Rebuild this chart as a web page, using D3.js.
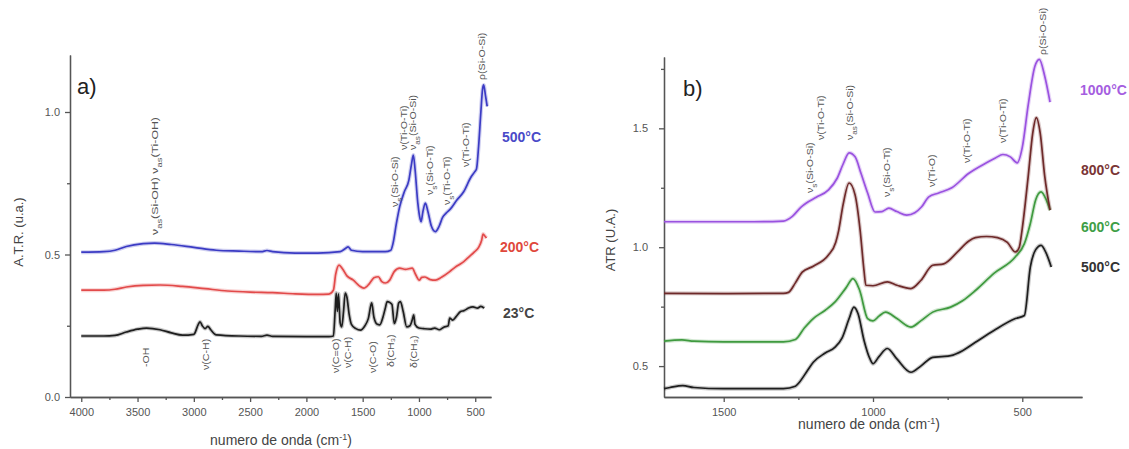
<!DOCTYPE html>
<html>
<head>
<meta charset="utf-8">
<script src="https://cdnjs.cloudflare.com/ajax/libs/d3/7.8.5/d3.min.js"></script>
<style>
  body { margin: 0; background: #fff; }
  svg { font-family: "Liberation Sans", Arial, sans-serif; }
  .axis path, .axis line { stroke: #555; stroke-width: 1.3; }
  .axis text { fill: #555; font-size: 11px; }
</style>
</head>
<body>
<div id="chart-area"></div>
<script>
// spectra, [wavenumber, ATR]
var specA23 = [[4000,.214],[3800,.214],[3700,.216],[3600,.228],[3500,.238],[3420,.242],[3300,.236],[3200,.225],
  [3100,.217],[3000,.220],[2960,.255],[2945,.264],[2925,.250],[2900,.240],[2875,.248],[2850,.236],[2800,.218],
  [2600,.214],[2400,.213],[2350,.217],[2300,.213],[2000,.212],[1800,.212],[1760,.214],[1745,.300],[1735,.365],
  [1725,.300],[1715,.362],[1700,.260],[1686,.246],[1670,.300],[1655,.365],[1640,.350],[1620,.290],[1600,.255],
  [1560,.240],[1520,.235],[1480,.250],[1450,.275],[1420,.330],[1400,.280],[1370,.255],[1348,.253],[1320,.280],
  [1300,.310],[1282,.335],[1260,.332],[1240,.325],[1219,.258],[1200,.280],[1180,.330],[1165,.335],[1140,.300],
  [1109,.246],[1080,.250],[1060,.270],[1047,.288],[1035,.255],[1000,.242],[960,.240],[900,.238],[860,.242],
  [820,.236],[780,.245],[740,.250],[727,.277],[700,.270],[670,.282],[630,.300],[600,.303],[560,.312],[520,.316],
  [480,.312],[450,.318],[420,.312]];

var specA200 = [[4000,.375],[3800,.375],[3700,.378],[3600,.386],[3450,.392],[3300,.393],[3100,.388],[2900,.380],
  [2700,.372],[2500,.368],[2300,.366],[2100,.362],[1900,.360],[1800,.361],[1760,.375],[1740,.430],[1710,.463],
  [1680,.450],[1640,.425],[1583,.410],[1530,.390],[1490,.382],[1440,.398],[1400,.418],[1361,.422],[1330,.405],
  [1297,.400],[1260,.410],[1220,.440],[1171,.452],[1120,.448],[1060,.452],[1030,.430],[997,.410],[975,.420],
  [950,.421],[900,.412],[854,.410],[800,.420],[727,.440],[680,.455],[640,.465],[602,.475],[560,.490],[505,.510],
  [470,.525],[443,.550],[430,.572],[415,.565],[400,.558]];

var specA500 = [[4000,.508],[3800,.510],[3700,.515],[3600,.528],[3450,.538],[3350,.540],[3200,.535],[3000,.525],
  [2800,.515],[2600,.512],[2400,.510],[2350,.514],[2300,.510],[2100,.505],[1900,.505],[1700,.510],[1650,.522],
  [1630,.527],[1600,.515],[1500,.510],[1300,.510],[1250,.515],[1230,.540],[1200,.610],[1171,.668],[1130,.720],
  [1090,.760],[1065,.820],[1050,.849],[1035,.800],[1010,.680],[990,.625],[981,.615],[965,.650],[943,.680],
  [920,.650],[890,.600],[854,.580],[820,.600],[790,.630],[759,.645],[720,.660],[665,.690],[603,.720],[540,.770],
  [505,.790],[489,.800],[470,.880],[450,1.000],[435,1.080],[425,1.095],[410,1.060],[394,1.020]];

var specB500 = [[1700,.405],[1680,.410],[1637,.418],[1600,.410],[1500,.405],[1300,.405],[1260,.415],[1248,.430],
  [1220,.480],[1200,.516],[1160,.555],[1127,.580],[1103,.620],[1080,.700],[1064,.748],[1050,.720],[1030,.608],
  [1010,.530],[1000,.510],[980,.540],[952,.574],[920,.530],[873,.474],[840,.500],[800,.537],[770,.540],
  [740,.544],[700,.565],[657,.600],[595,.650],[523,.700],[493,.713],[473,.917],[455,.990],[437,1.008],
  [420,.975],[403,.917]];

var specB600 = [[1700,.605],[1640,.610],[1600,.605],[1500,.602],[1300,.602],[1260,.612],[1230,.660],[1200,.700],
  [1160,.735],[1127,.770],[1090,.830],[1067,.868],[1045,.820],[1018,.700],[1000,.690],[980,.710],[958,.727],
  [920,.700],[873,.664],[840,.690],[800,.727],[740,.748],[700,.775],[657,.818],[595,.890],[523,.960],
  [493,1.015],[473,1.100],[455,1.200],[437,1.233],[420,1.200],[407,1.156]];

var specB800 = [[1700,.806],[1500,.805],[1300,.806],[1283,.810],[1260,.850],[1237,.895],[1200,.920],[1150,.966],
  [1125,1.02],[1115,1.07],[1100,1.18],[1080,1.27],[1060,1.22],[1043,1.07],[1030,.900],[1024,.840],[1000,.838],
  [952,.854],[920,.840],[873,.826],[840,.860],[800,.924],[763,.930],[717,.980],[680,1.025],[657,1.040],
  [620,1.045],[583,1.040],[550,1.020],[523,.980],[510,1.000],[501,1.070],[480,1.300],[465,1.480],[453,1.545],
  [440,1.480],[425,1.300],[407,1.156]];

var specB1000 = [[1700,1.107],[1600,1.107],[1400,1.107],[1300,1.110],[1270,1.130],[1240,1.170],[1223,1.186],
  [1190,1.210],[1150,1.240],[1120,1.290],[1100,1.350],[1080,1.397],[1060,1.380],[1040,1.310],[1018,1.228],
  [993,1.148],[970,1.150],[947,1.164],[920,1.150],[887,1.135],[860,1.145],[837,1.170],[813,1.212],[780,1.228],
  [736,1.250],[680,1.310],[620,1.355],[590,1.375],[565,1.390],[540,1.380],[517,1.355],[500,1.420],[480,1.600],
  [458,1.760],[443,1.790],[425,1.720],[407,1.610]];

// tick values
var xTicksA = [4000, 3500, 3000, 2500, 2000, 1500, 1000, 500];
var xMinorA = [3750, 3250, 2750, 2250, 1750, 1250, 750];
var yTicksA = [0, 0.5, 1.0];
var yMinorA = [0.25, 0.75];
var xTicksB = [1500, 1000, 500];
var xMinorB = [1250, 750];
var yTicksB = [0.5, 1.0, 1.5];
var yMinorB = [0.75, 1.25, 1.75];

// band assignments: [label, wavenumber]
var bandsTopA = [["ν_as(Si-OH) ν_as(Ti-OH)", 3345], ["ν_s(Si-O-Si)", 1213], ["ν(Ti-O-Ti)", 1135],
  ["ν_as(Si-O-Si)", 1055], ["ν_s(Si-O-Ti)", 902], ["ν_s(Ti-O-Ti)", 751], ["ν(Ti-O-Ti)", 585], ["ρ(Si-O-Si)", 440]];
var bandsLowA = [["-OH", 3425], ["ν(C-H)", 2892], ["ν(C=O)", 1737], ["ν(C-H)", 1631], ["ν(C-O)", 1409],
  ["δ(CH₃)", 1249], ["δ(CH₃)", 1046]];
var bandsB = [["ν_s(Si-O-Si)", 1211], ["ν(Ti-O-Ti)", 1174], ["ν_as(Si-O-Si)", 1077], ["ν_s(Si-O-Ti)", 953],
  ["ν(Ti-O)", 802], ["ν(Ti-O-Ti)", 685], ["ν(Ti-O-Ti)", 565], ["ρ(Si-O-Si)", 431]];

var svg = d3.select("#chart-area").append("svg")
  .attr("width", 1129)
  .attr("height", 449);

svg.append("rect").attr("width", 1129).attr("height", 449).attr("fill", "#fff");

// scales
var xA = d3.scaleLinear().domain([4100, 360]).range([70, 491]);
var yA = d3.scaleLinear().domain([0, 1.2]).range([397, 55]);
var xB = d3.scaleLinear().domain([1700, 300]).range([664, 1082]);
var yB = d3.scaleLinear().domain([0.37, 1.8]).range([397, 57]);

function drawAxes(x, y, xt, xm, yt, ym, fmtY, ypad) {
  svg.append("g").attr("class", "axis")
    .attr("transform", "translate(0," + y.range()[0] + ")")
    .call(d3.axisBottom(x).tickValues(xm).tickSize(3).tickSizeOuter(0).tickFormat(""));
  svg.append("g").attr("class", "axis")
    .attr("transform", "translate(0," + y.range()[0] + ")")
    .call(d3.axisBottom(x).tickValues(xt).tickSize(5).tickSizeOuter(0).tickPadding(6).tickFormat(d3.format("d")));
  svg.append("g").attr("class", "axis")
    .attr("transform", "translate(" + x.range()[0] + ",0)")
    .call(d3.axisLeft(y).tickValues(ym).tickSize(3).tickSizeOuter(0).tickFormat(""));
  svg.append("g").attr("class", "axis")
    .attr("transform", "translate(" + x.range()[0] + ",0)")
    .call(d3.axisLeft(y).tickValues(yt).tickSize(5).tickSizeOuter(0).tickPadding(ypad).tickFormat(fmtY));
}

drawAxes(xA, yA, xTicksA, xMinorA, yTicksA, yMinorA, d3.format(".1f"), 5);
drawAxes(xB, yB, xTicksB, xMinorB, yTicksB, yMinorB, d3.format(".1f"), 11);

function drawSpec(data, x, y, color) {
  var line = d3.line()
    .x(function(d) { return x(d[0]); })
    .y(function(d) { return y(d[1]); })
    .curve(d3.curveMonotoneX);
  svg.append("path").datum(data)
    .attr("d", line).attr("fill", "none")
    .attr("stroke", color).attr("stroke-opacity", 0.25).attr("stroke-width", 4);
  svg.append("path").datum(data)
    .attr("d", line).attr("fill", "none")
    .attr("stroke", color).attr("stroke-width", 1.7)
    .attr("stroke-linejoin", "round");
}

drawSpec(specA23, xA, yA, "#1e1e1e");
drawSpec(specA200, xA, yA, "#e24a4a");
drawSpec(specA500, xA, yA, "#3b3bc4");
drawSpec(specB500, xB, yB, "#1e1e1e");
drawSpec(specB600, xB, yB, "#3f9a3f");
drawSpec(specB800, xB, yB, "#6e2a2a");
drawSpec(specB1000, xB, yB, "#9a52e0");

// temperature labels
function tempLabel(txt, px, py, color) {
  svg.append("text")
    .attr("x", px).attr("y", py)
    .attr("font-size", "14px").attr("font-weight", "bold")
    .attr("fill", color)
    .text(txt);
}
tempLabel("500°C", 502, 142, "#4a4ac8");
tempLabel("200°C", 500, 252, "#e0483c");
tempLabel("23°C", 503, 318, "#444");
tempLabel("1000°C", 1080, 95, "#a55ee0");
tempLabel("800°C", 1081, 175, "#7a3535");
tempLabel("600°C", 1081, 232, "#3e9e46");
tempLabel("500°C", 1081, 272, "#333");

// rotated band labels, "_xx" marks a subscript
function band(txt, px, py, stretch) {
  var t = svg.append("text")
    .attr("transform", "translate(" + px + "," + py + ") scale(1," + (stretch || 1.25) + ") rotate(-90)")
    .attr("dy", "0.35em")
    .attr("font-size", "8.5px")
    .attr("fill", "#555");
  txt.split(/_([a-z]+)/).forEach(function(s, i) {
    var ts = t.append("tspan").text(s);
    if (i % 2 == 1) ts.attr("font-size", "6.5px").attr("baseline-shift", "sub");
  });
}

var topYA = [235, 207, 150, 150, 195, 205, 167, 80];
bandsTopA.forEach(function(b, i) { band(b[0], xA(b[1]), topYA[i], i == 0 ? 1.45 : 1.25); });
var lowYA = [367, 370, 373, 368, 373, 367, 368];
bandsLowA.forEach(function(b, i) { band(b[0], xA(b[1]), lowYA[i]); });
var topYB = [193, 140, 140, 197, 187, 163, 143, 55];
bandsB.forEach(function(b, i) { band(b[0], xB(b[1]), topYB[i]); });

// panel letters
svg.append("text").attr("x", 77).attr("y", 94).attr("font-size", "22px").attr("fill", "#222").text("a)");
svg.append("text").attr("x", 683).attr("y", 96).attr("font-size", "22px").attr("fill", "#222").text("b)");

// axis titles
function xTitle(cx, cy) {
  var t = svg.append("text")
    .attr("x", cx).attr("y", cy)
    .attr("text-anchor", "middle")
    .attr("font-size", "14px").attr("fill", "#444");
  t.append("tspan").text("numero de onda (cm");
  t.append("tspan").attr("font-size", "9px").attr("baseline-shift", "super").text("-1");
  t.append("tspan").text(")");
}
xTitle(281, 445);
xTitle(869, 429);

svg.append("text")
  .attr("transform", "translate(23,232) rotate(-90)")
  .attr("text-anchor", "middle")
  .attr("font-size", "13px").attr("fill", "#444")
  .text("A.T.R. (u.a.)");

svg.append("text")
  .attr("transform", "translate(615,240) rotate(-90)")
  .attr("text-anchor", "middle")
  .attr("font-size", "13px").attr("fill", "#444")
  .text("ATR (U.A.)");
</script>
</body>
</html>
